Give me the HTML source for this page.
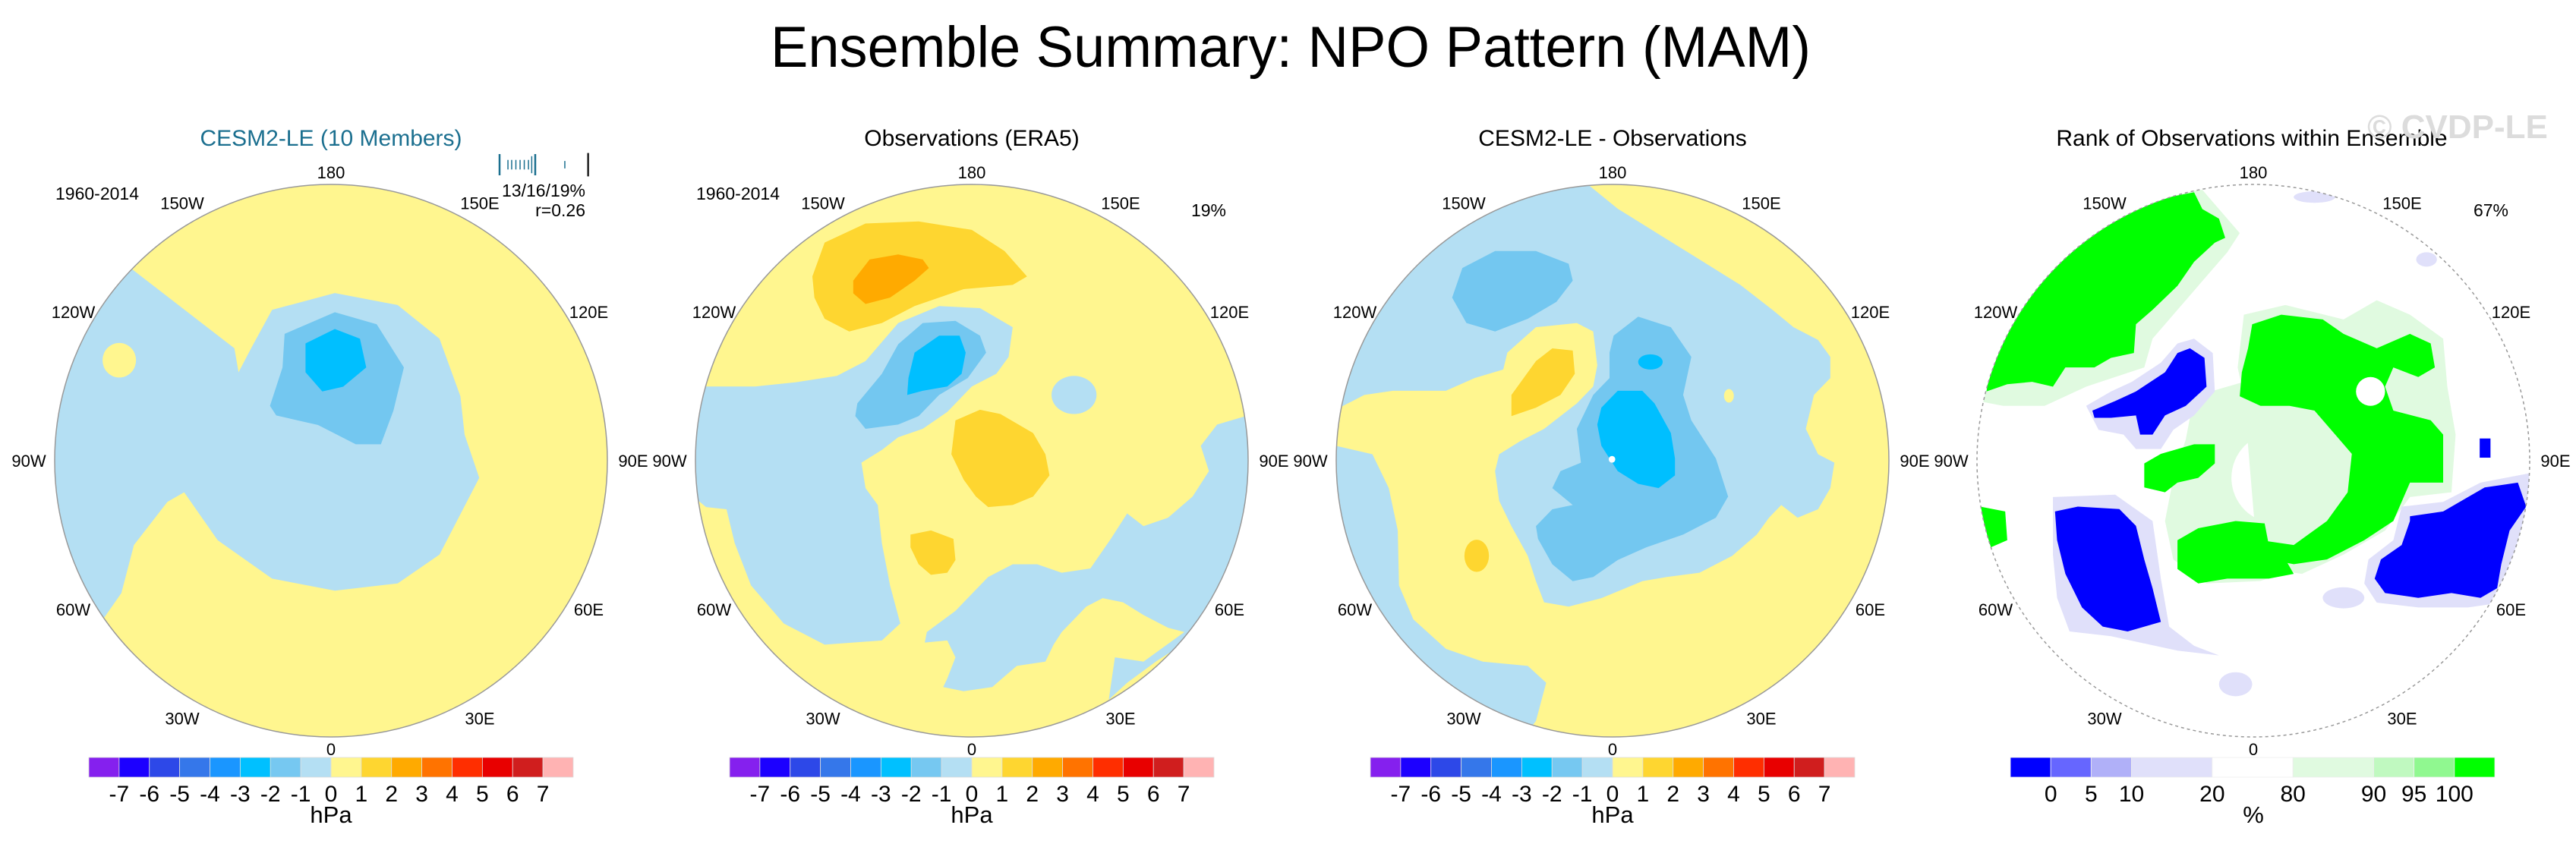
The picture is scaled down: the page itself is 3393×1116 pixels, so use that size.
<!DOCTYPE html>
<html><head><meta charset="utf-8">
<style>
html,body{margin:0;padding:0;background:#fff;}
svg{display:block;font-family:"Liberation Sans",Arial,sans-serif;}
</style></head>
<body>
<svg id="fig" width="3393" height="1116" viewBox="0 0 3393 1116" xmlns="http://www.w3.org/2000/svg">
<defs>
  <clipPath id="c1" clipPathUnits="userSpaceOnUse"><circle cx="436" cy="607" r="364"/></clipPath>
  <clipPath id="c2" clipPathUnits="userSpaceOnUse"><circle cx="1280" cy="607" r="364"/></clipPath>
  <clipPath id="c3" clipPathUnits="userSpaceOnUse"><circle cx="2124" cy="607" r="364"/></clipPath>
  <clipPath id="c4" clipPathUnits="userSpaceOnUse"><circle cx="2968" cy="607" r="364"/></clipPath>
</defs>
<text x="1700" y="88" font-size="76" text-anchor="middle" textLength="1370" lengthAdjust="spacingAndGlyphs">Ensemble Summary: NPO Pattern (MAM)</text>

<!-- Panel 1 -->
<g>
<text x="436" y="192" font-size="30" fill="#1b6f8f" text-anchor="middle">CESM2-LE (10 Members)</text>
<g clip-path="url(#c1)">
 <rect x="60" y="230" width="760" height="760" fill="#fff68f"/>
 <g transform="translate(0,130) scale(0.5513,0.6324)">
  <path fill="#b4dff3" d="M315,355 L560,520 L570,570 L600,520 L650,440 L800,405 L950,430 L1050,500 L1100,620 L1110,700 L1145,790 L1050,950 L950,1010 L800,1025 L650,1000 L520,920 L440,820 L400,840 L320,930 L290,1030 L250,1080 L-100,1200 L-100,300 Z"/>
  <ellipse cx="285" cy="545" rx="40" ry="36" fill="#fff68f"/>
  <path fill="#73c7f0" d="M680,490 L800,445 L900,470 L965,560 L940,650 L910,720 L850,720 L760,680 L660,660 L645,640 L675,560 Z"/>
  <path fill="#00bfff" d="M730,510 L800,480 L860,500 L875,560 L820,600 L770,610 L730,570 Z"/>
 </g>
</g>
<circle cx="436" cy="607" r="364" fill="none" stroke="#999" stroke-width="1.5"/>
<text x="128" y="263" font-size="23" text-anchor="middle">1960-2014</text>
<g id="ticks1" stroke="#1b6f8f"></g>
<text x="771" y="259" font-size="23" text-anchor="end">13/16/19%</text>
<text x="771" y="285" font-size="23" text-anchor="end">r=0.26</text>
</g>

<!-- Panel 2 -->
<g>
<text x="1280" y="192" font-size="30" text-anchor="middle">Observations (ERA5)</text>
<g clip-path="url(#c2)">
 <rect x="900" y="230" width="760" height="760" fill="#fff68f"/>
 <g transform="translate(860,130) scale(0.5385,0.5577)">
  <path fill="#fed630" d="M390,420 L420,340 L520,295 L650,290 L780,310 L860,360 L915,420 L880,440 L760,450 L640,490 L560,530 L480,550 L420,520 L395,470 Z"/>
  <path fill="#ffaa00" d="M490,430 L530,380 L600,368 L660,380 L675,400 L640,430 L580,470 L520,485 L490,460 Z"/>
  <path fill="#b4dff3" d="M130,680 L250,680 L350,670 L450,655 L520,620 L600,530 L700,490 L800,495 L880,540 L870,610 L840,650 L780,680 L720,740 L660,780 L600,800 L560,830 L510,860 L520,920 L550,960 L560,1050 L580,1150 L605,1240 L560,1280 L420,1290 L320,1240 L240,1150 L200,1050 L180,970 L130,965 L105,945 L0,940 L0,680 Z"/>
  <path fill="#b4dff3" d="M1450,750 L1380,770 L1340,820 L1360,880 L1320,940 L1260,990 L1200,1010 L1160,980 L1120,1040 L1070,1110 L1000,1120 L940,1100 L880,1100 L820,1130 L780,1170 L740,1210 L670,1260 L665,1285 L720,1280 L740,1320 L720,1370 L710,1390 L760,1400 L830,1390 L890,1340 L960,1330 L980,1290 L1000,1260 L1060,1200 L1100,1180 L1150,1190 L1200,1220 L1260,1250 L1300,1260 L1200,1330 L1130,1320 L1115,1420 L1160,1380 L1230,1330 L1600,1100 L1600,750 Z"/>
  <ellipse cx="1030" cy="700" rx="55" ry="45" fill="#b4dff3"/>
  <path fill="#73c7f0" d="M500,720 L560,650 L600,580 L660,530 L740,525 L800,560 L815,600 L770,660 L700,700 L650,750 L600,770 L520,780 L495,750 Z"/>
  <path fill="#00bfff" d="M640,600 L700,560 L750,560 L765,600 L755,650 L720,680 L660,690 L622,700 L625,660 Z"/>
  <path fill="#fed630" d="M740,760 L800,735 L850,745 L930,790 L960,840 L970,890 L930,940 L880,960 L820,965 L790,940 L760,900 L730,840 Z"/>
  <path fill="#fed630" d="M630,1030 L680,1020 L735,1040 L740,1090 L720,1120 L680,1125 L650,1100 L630,1060 Z"/>
 </g>
</g>
<circle cx="1280" cy="607" r="364" fill="none" stroke="#999" stroke-width="1.5"/>
<text x="972" y="263" font-size="23" text-anchor="middle">1960-2014</text>
<text x="1592" y="285" font-size="23" text-anchor="middle">19%</text>
</g>

<!-- Panel 3 -->
<g>
<text x="2124" y="192" font-size="30" text-anchor="middle">CESM2-LE - Observations</text>
<g clip-path="url(#c3)">
 <rect x="1744" y="230" width="760" height="760" fill="#fff68f"/>
 <g transform="translate(1700,130) scale(0.5385,0.5577)">
  <path fill="#b4dff3" d="M730,205 L800,260 L900,320 L1000,380 L1100,440 L1180,500 L1230,540 L1290,570 L1320,610 L1320,660 L1280,700 L1260,780 L1290,840 L1330,860 L1320,920 L1290,970 L1240,990 L1200,960 L1170,990 L1140,1030 L1080,1080 L1000,1120 L920,1130 L860,1140 L760,1180 L680,1200 L620,1190 L600,1140 L580,1080 L540,1010 L510,950 L500,880 L510,840 L560,810 L620,780 L660,750 L700,720 L740,680 L750,630 L740,550 L700,530 L600,540 L530,600 L520,640 L450,660 L380,690 L250,690 L180,700 L120,730 L0,730 L0,0 L730,0 Z"/>
  <path fill="#b4dff3" d="M110,820 L200,840 L240,920 L262,1020 L265,1150 L300,1230 L380,1300 L470,1330 L580,1340 L625,1380 L600,1470 L500,1600 L0,1600 L0,820 Z"/>
  <path fill="#73c7f0" d="M395,470 L420,400 L500,360 L600,360 L680,390 L690,430 L650,480 L580,520 L500,550 L430,530 Z"/>
  <path fill="#fed630" d="M540,700 L600,620 L640,590 L690,595 L695,650 L660,700 L600,730 L540,750 Z"/>
  <ellipse cx="455" cy="1080" rx="30" ry="38" fill="#fed630"/>
  <path fill="#73c7f0" d="M790,560 L850,515 L930,540 L980,610 L960,700 L980,760 L1040,850 L1070,940 L1040,990 L960,1030 L870,1060 L800,1090 L740,1130 L690,1140 L640,1100 L605,1040 L600,1010 L640,970 L690,960 L640,920 L660,880 L710,860 L700,780 L740,700 L780,660 L780,600 Z"/>
  <path fill="#00bfff" d="M760,730 L800,690 L860,690 L890,720 L930,790 L940,850 L940,890 L900,920 L850,910 L800,880 L760,820 L750,770 Z"/>
  <ellipse cx="880" cy="622" rx="30" ry="18" fill="#00bfff"/>
  <ellipse cx="1072" cy="702" rx="12" ry="16" fill="#fff68f"/>
  <circle cx="786" cy="852" r="8" fill="#fff"/>
 </g>
</g>
<circle cx="2124" cy="607" r="364" fill="none" stroke="#999" stroke-width="1.5"/>
</g>

<!-- Panel 4 -->
<g>
<text x="2966" y="192" font-size="30" text-anchor="middle">Rank of Observations within Ensemble</text>
<text x="3237" y="182" font-size="44" font-weight="bold" fill="#dcdcdc" text-anchor="middle">© CVDP-LE</text>
<g clip-path="url(#c4)">
 <rect x="2588" y="230" width="760" height="760" fill="#fff"/>
 <g transform="translate(2540,130) scale(0.5468,0.6324)">
  <path fill="#e0fae0" d="M640,620 L760,590 L900,620 L990,690 L1030,780 L1000,890 L900,975 L800,1005 L670,1010 L590,960 L570,880 L590,790 L620,710 Z"/>
  <ellipse cx="840" cy="790" rx="110" ry="95" fill="#fff"/>
  <path fill="#e0fae0" d="M120,630 L150,480 L250,370 L400,260 L560,200 L660,190 L700,230 L750,280 L720,320 L660,380 L600,440 L540,500 L520,560 L450,580 L380,600 L330,620 L280,640 L180,640 Z"/>
  <path fill="#00ff00" d="M140,610 L160,500 L230,400 L330,310 L430,250 L520,215 L640,195 L660,230 L700,250 L715,290 L690,300 L640,340 L600,390 L540,440 L500,470 L495,530 L440,540 L400,560 L330,560 L300,600 L250,590 L190,595 Z"/>
  <path fill="#e0fae0" d="M760,450 L860,430 L1000,460 L1080,420 L1160,450 L1240,500 L1250,600 L1270,700 L1260,820 L1160,830 L1100,900 L1000,950 L900,990 L820,980 L790,930 L760,620 L745,560 Z"/>
  <path fill="#00ff00" d="M780,470 L850,450 L950,460 L1000,490 L1080,520 L1160,490 L1210,510 L1220,560 L1180,580 L1120,560 L1100,600 L1120,650 L1210,670 L1240,700 L1240,800 L1200,800 L1160,800 L1120,880 L1050,920 L960,960 L880,970 L820,960 L800,920 L880,930 L960,880 L1010,820 L1020,740 L980,700 L930,650 L870,640 L800,640 L750,620 L755,570 L770,520 Z"/>
  <ellipse cx="1065" cy="610" rx="35" ry="30" fill="#fff"/>
  <path fill="#00ff00" d="M600,920 L650,895 L740,880 L810,885 L820,930 L860,960 L880,990 L820,1000 L720,1000 L650,1010 L600,980 Z"/>
  <path fill="#00ff00" d="M520,760 L560,740 L640,720 L690,720 L690,760 L650,790 L600,800 L570,820 L520,810 Z"/>
  <path fill="#00ff00" d="M125,850 L185,860 L190,920 L150,935 L125,900 Z"/>
  <path fill="#e0e0fa" d="M380,640 L440,610 L490,590 L560,550 L600,510 L640,500 L685,530 L690,610 L640,660 L590,690 L560,730 L500,730 L470,700 L410,690 Z"/>
  <path fill="#0000ff" d="M395,650 L450,630 L500,610 L570,570 L600,530 L630,520 L665,540 L670,600 L620,640 L570,660 L540,700 L510,700 L500,660 L440,665 L400,665 Z"/>
  <path fill="#e0e0fa" d="M300,830 L450,825 L540,880 L560,1000 L580,1100 L640,1140 L700,1160 L600,1150 L440,1120 L340,1110 L310,1040 L300,950 Z"/>
  <path fill="#0000ff" d="M305,860 L360,850 L460,855 L500,890 L520,960 L540,1020 L560,1090 L480,1110 L420,1100 L370,1060 L330,990 L310,920 Z"/>
  <path fill="#e0e0fa" d="M1140,850 L1240,840 L1330,800 L1450,780 L1450,900 L1410,990 L1380,1050 L1300,1060 L1180,1060 L1080,1050 L1050,1010 L1060,960 L1120,920 Z"/>
  <path fill="#0000ff" d="M1160,870 L1240,860 L1300,830 L1340,810 L1420,800 L1440,850 L1400,900 L1380,970 L1370,1020 L1330,1040 L1260,1030 L1180,1040 L1100,1030 L1075,1000 L1090,960 L1140,930 L1160,880 Z"/>
  <ellipse cx="1000" cy="1040" rx="50" ry="22" fill="#e0e0fa"/>
  <ellipse cx="740" cy="1220" rx="40" ry="25" fill="#e0e0fa"/>
  <ellipse cx="930" cy="205" rx="50" ry="12" fill="#e0e0fa"/>
  <ellipse cx="1200" cy="335" rx="25" ry="15" fill="#e0e0fa"/>
  <rect x="1328" y="708" width="26" height="40" fill="#0000ff"/>
 </g>
</g>
<circle cx="2968" cy="607" r="364" fill="none" stroke="#999" stroke-width="1.5" stroke-dasharray="4,4"/>
<text x="3281" y="285" font-size="23" text-anchor="middle">67%</text>
</g>

<g id="labels"></g>
<g id="cbars"></g>

<script>
var NS="http://www.w3.org/2000/svg";
var panelCenters=[436,1280,2124,2968];
var lonLabels=["180","150W","150E","120W","120E","90W","90E","60W","60E","30W","30E","0"];
var lonAngles=[180,-150,150,-120,120,-90,90,-60,60,-30,30,0];
var hpaColors=["#8520ee","#1c00ff","#2d48e8","#3577ea","#1a96ff","#00c0ff","#76c8f1","#b4dff3","#fff68f","#fed630","#ffaa00","#ff7300","#ff2e00","#e80000","#d01e1e","#ffb3b3"];
var hpaTicks=["-7","-6","-5","-4","-3","-2","-1","0","1","2","3","4","5","6","7"];
var rankColors=["#0000ff","#6666ff","#b0b0f8","#e0e0fa","#ffffff","#e0fae0","#c0f9c0","#90f890","#00ff00"];
var rankWidths=[1,1,1,2,2,2,1,1,1];
var rankTicks=["0","5","10","20","80","90","95","100"];
var memberTicks=[0,3.6,5.2,7.0,8.8,10.6,12.4,13.8,15.3,28,38];
var memberHeights=[1,0.45,0.45,0.45,0.45,0.45,0.45,0.8,1,0.35,1.1];

function mk(tag,attrs,parent){var e=document.createElementNS(NS,tag);for(var k in attrs)e.setAttribute(k,attrs[k]);parent.appendChild(e);return e;}

var lab=document.getElementById("labels");
panelCenters.forEach(function(cx,p){
  lonAngles.forEach(function(a,i){
    var th=(180-a)*Math.PI/180;
    var R=(a==180||a==0)?380:(Math.abs(a)==90?398:392);
    var x=cx+Math.sin(th)*R, y=607-Math.cos(th)*R;
    var t=mk("text",{x:x,y:y+8,"font-size":22,"text-anchor":"middle"},lab);
    
    
    t.textContent=lonLabels[i];
  });
});

var cb=document.getElementById("cbars");
var barY=998, barH=26, barW=638;
for(var p=0;p<3;p++){
  var x0=panelCenters[p]-319, w=barW/hpaColors.length;
  hpaColors.forEach(function(c,i){
    var r=mk("rect",{x:x0+i*w,y:barY,width:w,height:barH,fill:c,stroke:"#ddd","stroke-width":0.8},cb);
    
    
  });
  hpaTicks.forEach(function(s,i){
    var t=mk("text",{x:x0+(i+1)*w,y:1056,"font-size":30,"text-anchor":"middle"},cb);
    
    
    t.textContent=s;
  });
  var u=mk("text",{x:panelCenters[p],y:1084,"font-size":31,"text-anchor":"middle"},cb);
  
  
  u.textContent="hPa";
}
(function(){
  var x0=panelCenters[3]-320, tot=rankWidths.reduce(function(a,b){return a+b;},0), unit=barW/tot, x=x0, bounds=[];
  rankColors.forEach(function(c,i){
    var w=rankWidths[i]*unit;
    var r=mk("rect",{x:x,y:barY,width:w,height:barH,fill:c,stroke:"#eee","stroke-width":0.8},cb);
    
    
    x+=w; bounds.push(x);
  });
  rankTicks.forEach(function(s,i){
    var t=mk("text",{x:bounds[i],y:1056,"font-size":30,"text-anchor":"middle"},cb);
    
    
    t.textContent=s;
  });
  var u=mk("text",{x:panelCenters[3],y:1084,"font-size":31,"text-anchor":"middle"},cb);
  
  
  u.textContent="%";
})();

var tk=document.getElementById("ticks1");
memberTicks.forEach(function(v,i){
  var x=658+v*3.07, h=28*memberHeights[i], yc=217;
  var l=mk("line",{x1:x,x2:x,y1:yc-h/2,y2:yc+h/2,"stroke-width":(memberHeights[i]>=1?2.5:1.5),stroke:(i==memberTicks.length-1?"#222":"#1b6f8f")},tk);
  
  
});
</script>
</svg>
</body></html>
